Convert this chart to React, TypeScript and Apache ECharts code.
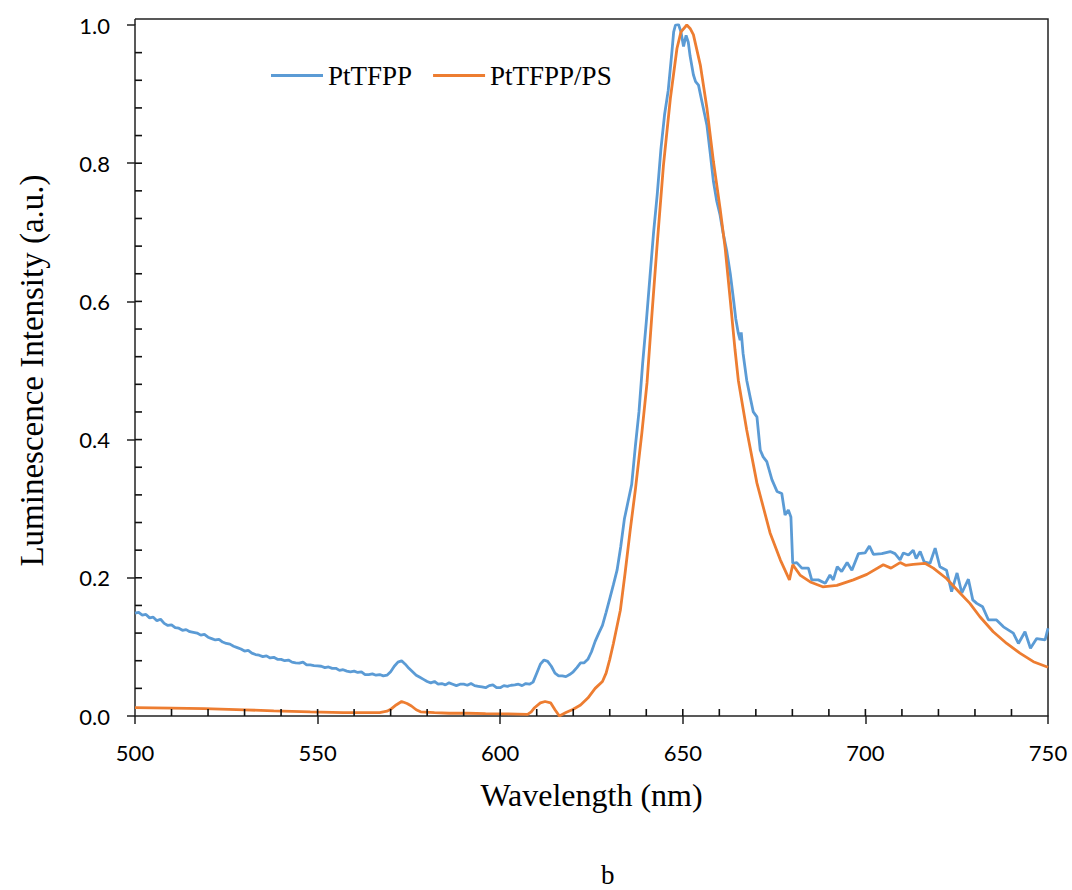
import React, { useEffect, useRef } from "react";
import * as echarts from "echarts";

const seriesNames = ["PtTFPP", "PtTFPP/PS"];

const wlPt = [
  500, 501, 502, 503, 504, 505, 506, 507, 508, 509, 510, 511, 512, 513, 514, 515, 516, 517, 518, 519,
  520, 521, 522, 523, 524, 525, 526, 527, 528, 529, 530, 531, 532, 533, 534, 535, 536, 537, 538, 539,
  540, 541, 542, 543, 544, 545, 546, 547, 548, 549, 550, 551, 552, 553, 554, 555, 556, 557, 558, 559,
  560, 561, 562, 563, 564, 565, 566, 567, 568, 569, 570, 571, 572, 573, 574, 575, 576, 577, 578, 579,
  580, 581, 582, 583, 584, 585, 586, 587, 588, 589, 590, 591, 592, 593, 594, 595, 596, 597, 598, 599,
  600, 601, 602, 603, 604, 605, 606, 607, 608, 609, 610, 611, 612, 613, 614, 615, 616, 617, 618, 619,
  620, 621, 622, 623, 624, 625, 626, 627, 628, 629, 630, 631, 632, 633, 634, 635, 636, 637, 638, 639,
  640, 641, 642, 643, 644, 645, 646, 647, 647.5, 648, 648.8, 649.5, 650.2, 650.9, 651.5, 652, 652.9,
  653.5, 654.3, 655, 656, 656.6, 657.5, 658.4, 659.3, 660.2, 661, 662, 663, 663.9, 664.5, 665.2, 665.7,
  666, 666.5, 667.5, 668.5, 669.3, 670.3, 671.2, 672, 673, 674.4, 675.8, 677.1, 678, 678.9, 679.6, 680.1,
  681.2, 682.6, 684.4, 685.3, 687.1, 689, 690.3, 691.2, 692.3, 693.5, 695, 696.3, 698.1, 699.9, 701.1,
  702.2, 704.5, 706.8, 708.1, 709.5, 710.4, 711.8, 713.1, 713.9, 715, 716.1, 717.7, 719.1, 720.4, 722.2,
  723.6, 725.1, 726.4, 728.2, 729.4, 730.5, 732.1, 733.7, 735.9, 737.8, 740.5, 741.9, 743.7, 745.2,
  746.9, 749.2, 750,
];
const valPt = [
  0.149, 0.15, 0.146, 0.147, 0.142, 0.143, 0.138, 0.14, 0.134, 0.131, 0.132, 0.128, 0.127, 0.124, 0.125, 0.122, 0.121, 0.12, 0.117, 0.118,
  0.114, 0.112, 0.11, 0.111, 0.107, 0.105, 0.104, 0.101, 0.099, 0.097, 0.094, 0.095, 0.091, 0.089, 0.088, 0.086, 0.087, 0.084, 0.085, 0.082,
  0.082, 0.08, 0.081, 0.078, 0.077, 0.0765, 0.078, 0.074, 0.074, 0.073, 0.0726, 0.072, 0.07, 0.071, 0.069, 0.069, 0.066, 0.067, 0.065, 0.064,
  0.065, 0.063, 0.064, 0.06, 0.06, 0.061, 0.059, 0.06, 0.058, 0.059, 0.064, 0.072, 0.078, 0.08, 0.075, 0.069, 0.064, 0.059, 0.056, 0.053,
  0.05, 0.048, 0.05, 0.046, 0.047, 0.045, 0.048, 0.046, 0.044, 0.046, 0.046, 0.0445, 0.047, 0.044, 0.043, 0.042, 0.041, 0.044, 0.045, 0.041,
  0.041, 0.044, 0.043, 0.0445, 0.045, 0.046, 0.044, 0.047, 0.046, 0.049, 0.062, 0.075, 0.081, 0.079, 0.072, 0.062, 0.058, 0.058, 0.057, 0.06,
  0.064, 0.07, 0.077, 0.077, 0.082, 0.093, 0.108, 0.12, 0.131, 0.15, 0.17, 0.19, 0.211, 0.245, 0.285, 0.31, 0.335, 0.39, 0.44, 0.51,
  0.57, 0.635, 0.7, 0.755, 0.82, 0.87, 0.905, 0.96, 0.99, 1.0, 1.001, 0.99, 0.969, 0.985, 0.975, 0.955, 0.928,
  0.918, 0.913, 0.895, 0.87, 0.855, 0.815, 0.773, 0.745, 0.725, 0.7, 0.674, 0.64, 0.602, 0.575, 0.554, 0.544,
  0.555, 0.525, 0.486, 0.46, 0.44, 0.433, 0.385, 0.375, 0.368, 0.342, 0.325, 0.322, 0.291, 0.298, 0.288, 0.221,
  0.222, 0.214, 0.214, 0.197, 0.197, 0.192, 0.204, 0.197, 0.216, 0.209, 0.222, 0.211, 0.235, 0.236, 0.246,
  0.234, 0.235, 0.238, 0.235, 0.226, 0.236, 0.233, 0.24, 0.228, 0.238, 0.223, 0.221, 0.243, 0.216, 0.211,
  0.18, 0.207, 0.178, 0.198, 0.168, 0.163, 0.158, 0.139, 0.139, 0.129, 0.12, 0.105, 0.122, 0.098,
  0.112, 0.11, 0.127,
];

const wlPs = [
  500, 510, 519, 530, 538, 548, 557, 567, 569, 570, 571.5, 573, 574.5, 575.7, 577, 578.2, 582, 586, 591, 596,
  602, 607.5, 608.5, 609.4, 611, 612.3, 613.8, 615, 616.2, 618, 620, 622, 624, 626, 628, 629, 630, 631,
  632.9, 634.2, 635.6, 637, 638.8, 640.2, 641.5, 642.9, 644.7, 646.6, 648.4, 649.5, 651.1, 652, 652.9, 654.8,
  656.6, 658.4, 660.2, 661.6, 663, 664.3, 665.2, 667.5, 670.3, 673.9, 676.7, 679.2, 680.1, 682.1, 684.9,
  688.3, 692.2, 696.7, 700.4, 704.9, 707, 709.5, 711, 713.1, 716.3, 718.6, 722.2, 725.9, 728.6, 731.3, 735,
  738.7, 742.3, 746, 750,
];
const valPs = [
  0.012, 0.0115, 0.0107, 0.009, 0.0073, 0.006, 0.005, 0.005, 0.007, 0.0097, 0.016, 0.021, 0.018, 0.0145, 0.009, 0.006, 0.005, 0.004, 0.004, 0.0034,
  0.003, 0.0024, 0.006, 0.012, 0.019, 0.021, 0.019, 0.009, 0.0, 0.005, 0.0097, 0.016, 0.026, 0.04, 0.05, 0.062, 0.082, 0.105,
  0.153, 0.207, 0.269, 0.327, 0.41, 0.482, 0.578, 0.677, 0.797, 0.894, 0.966, 0.99, 1.0, 0.995, 0.986, 0.942,
  0.88, 0.802, 0.735, 0.677, 0.602, 0.53, 0.486, 0.414, 0.337, 0.265, 0.226, 0.197, 0.219, 0.204, 0.194,
  0.187, 0.189, 0.197, 0.205, 0.219, 0.214, 0.222, 0.218, 0.2195, 0.221, 0.214, 0.199, 0.178, 0.163, 0.144, 0.122,
  0.105, 0.091, 0.0786, 0.0705,
];

// Inward (minor + major) tick positions of the Excel-style axes
const xInnerTicks = [
  510, 520, 530, 540, 550, 560, 570, 580, 590, 600, 610, 620, 630, 640, 650, 660, 670, 680, 690, 700,
  710, 720, 730, 740,
];
const yInnerTicks = [
  0.04, 0.08, 0.12, 0.16, 0.2, 0.24, 0.28, 0.32, 0.36, 0.4, 0.44, 0.48, 0.52, 0.56, 0.6, 0.64, 0.68,
  0.72, 0.76, 0.8, 0.84, 0.88, 0.92, 0.96,
];

const xTitle = "Wavelength (nm)";
const yTitle = "Luminescence Intensity (a.u.)";
const panelLabel = "b";

const zip = (xs: number[], ys: number[]) => xs.map((x, i) => [x, ys[i]]);

const axisColor = "#222";
const tickFont = "Lato, 'Open Sans', sans-serif";
const serif = "'Liberation Serif', 'DejaVu Serif', serif";

export default function App() {
  const ref = useRef<HTMLDivElement>(null);
  useEffect(() => {
    if (!ref.current) return;
    const chart = echarts.init(ref.current, undefined, { renderer: "svg" });
    const gridL = 135, gridR = 24, gridT = 25, gridB = 174;
    const W = 1072, H = 890;
    const tickLine = { color: axisColor, width: 1.5 };
    const xMin = 500, yMin = 0;
    const tickLen = 7;
    chart.setOption({
      animation: false,
      backgroundColor: "#fff",
      grid: { left: gridL, right: gridR, top: gridT, bottom: gridB, containLabel: false },
      legend: {
        data: seriesNames,
        left: 271,
        top: 62,
        padding: 0,
        icon: "rect",
        itemWidth: 52,
        itemHeight: 3,
        itemGap: 21,
        textStyle: { fontFamily: serif, fontSize: 27, color: "#000" },
      },
      xAxis: {
        type: "value",
        min: xMin,
        max: 750,
        interval: 50,
        position: "bottom",
        name: xTitle,
        nameLocation: "middle",
        nameGap: 63,
        nameTextStyle: { fontFamily: serif, fontSize: 32, color: "#000" },
        axisLine: { show: true, onZero: false, lineStyle: tickLine },
        axisTick: { show: true, inside: false, length: 8, lineStyle: tickLine },
        axisLabel: { show: true, margin: 25, fontFamily: tickFont, fontSize: 22, color: "#000" },
        splitLine: { show: false },
      },
      yAxis: {
        type: "value",
        min: yMin,
        max: 1,
        interval: 0.2,
        position: "left",
        name: yTitle,
        nameLocation: "middle",
        nameGap: 87,
        nameTextStyle: { fontFamily: serif, fontSize: 33, color: "#000" },
        axisLine: { show: true, onZero: false, lineStyle: tickLine },
        axisTick: { show: true, inside: false, length: 8, lineStyle: tickLine },
        axisLabel: {
          show: true,
          margin: 25,
          fontFamily: tickFont,
          fontSize: 22,
          color: "#000",
          formatter: (v: number) => v.toFixed(1),
        },
        splitLine: { show: false },
      },
      graphic: [
        {
          type: "polyline",
          silent: true,
          z: 1,
          shape: {
            points: [
              [gridL, 19],
              [W - gridR, 19],
              [W - gridR, H - gridB],
            ],
          },
          style: { fill: null, stroke: axisColor, lineWidth: 1.5 },
        },
        {
          type: "line",
          silent: true,
          z: 1,
          shape: { x1: gridL, y1: 19, x2: gridL, y2: gridT },
          style: { stroke: axisColor, lineWidth: 1.5 },
        },
        {
          type: "text",
          left: 601,
          top: 861,
          style: { text: panelLabel, fontFamily: serif, fontSize: 27, fill: "#000" },
        },
      ],
      series: [
        {
          name: "xInnerTicks",
          type: "custom",
          silent: true,
          clip: false,
          z: 5,
          coordinateSystem: "cartesian2d",
          encode: { x: 0, y: 1 },
          data: xInnerTicks.map((v) => [v, yMin]),
          renderItem: (_params: any, api: any) => {
            const p = api.coord([api.value(0), api.value(1)]);
            return {
              type: "line",
              shape: { x1: p[0], y1: p[1], x2: p[0], y2: p[1] - tickLen },
              style: { stroke: "#111", lineWidth: 1.6 },
            };
          },
        },
        {
          name: "yInnerTicks",
          type: "custom",
          silent: true,
          clip: false,
          z: 5,
          coordinateSystem: "cartesian2d",
          encode: { x: 0, y: 1 },
          data: yInnerTicks.map((v) => [xMin, v]),
          renderItem: (_params: any, api: any) => {
            const p = api.coord([api.value(0), api.value(1)]);
            return {
              type: "line",
              shape: { x1: p[0], y1: p[1], x2: p[0] + tickLen, y2: p[1] },
              style: { stroke: "#111", lineWidth: 1.6 },
            };
          },
        },
        {
          name: seriesNames[0],
          type: "line",
          data: zip(wlPt, valPt),
          showSymbol: false,
          symbol: "none",
          lineStyle: { color: "#5b9bd5", width: 2.8 },
          itemStyle: { color: "#5b9bd5" },
          z: 3,
        },
        {
          name: seriesNames[1],
          type: "line",
          data: zip(wlPs, valPs),
          showSymbol: false,
          symbol: "none",
          lineStyle: { color: "#ed7d31", width: 2.8 },
          itemStyle: { color: "#ed7d31" },
          z: 4,
        },
      ],
    });
    return () => chart.dispose();
  }, []);
  return (
    <div
      ref={ref}
      style={{ position: "fixed", left: 0, top: 0, width: 1072, height: 890, background: "#fff" }}
    />
  );
}
